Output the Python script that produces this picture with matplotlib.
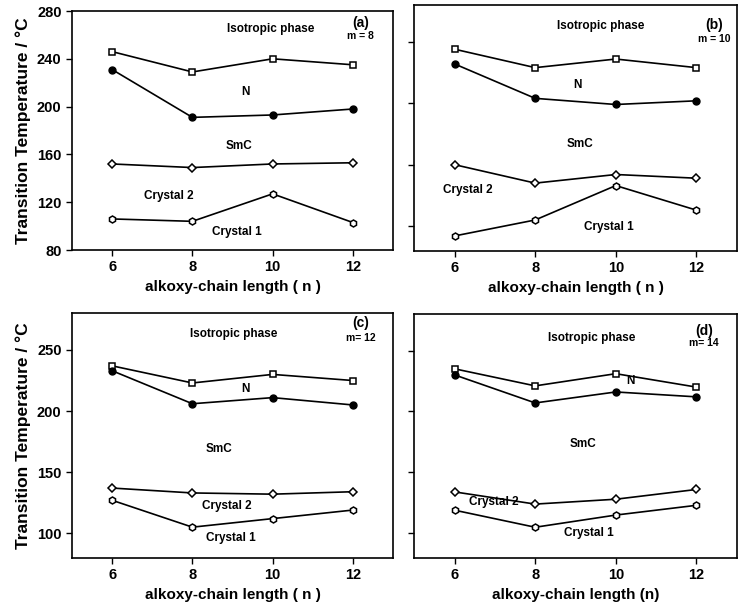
import matplotlib
matplotlib.use("Agg")
import matplotlib.pyplot as plt

plt.rcParams['font.family'] = ['Liberation Sans', 'DejaVu Sans']
plt.rcParams['font.weight'] = 'bold'

n = [6, 8, 10, 12]

# transition temperatures (deg C), one set per m
iso_a = [246, 229, 240, 235]
n_a = [231, 191, 193, 198]
smc_a = [152, 149, 152, 153]
cr_a = [106, 104, 127, 103]

iso_b = [244, 229, 236, 229]
n_b = [232, 204, 199, 202]
smc_b = [150, 135, 142, 139]
cr_b = [92, 105, 133, 113]

iso_c = [237, 223, 230, 225]
n_c = [233, 206, 211, 205]
smc_c = [137, 133, 132, 134]
cr_c = [127, 105, 112, 119]

iso_d = [235, 221, 231, 220]
n_d = [230, 207, 216, 212]
smc_d = [134, 124, 128, 136]
cr_d = [119, 105, 115, 123]

panels = [
    ('(a)', 'm = 8', iso_a, n_a, smc_a, cr_a),
    ('(b)', 'm = 10', iso_b, n_b, smc_b, cr_b),
    ('(c)', 'm= 12', iso_c, n_c, smc_c, cr_c),
    ('(d)', 'm= 14', iso_d, n_d, smc_d, cr_d),
]

# axes boxes in figure fractions [left, bottom, width, height]
boxes = [
    [0.0976, 0.5888, 0.4349, 0.3931],
    [0.5614, 0.5877, 0.4368, 0.4041],
    [0.0976, 0.0827, 0.4349, 0.4020],
    [0.5614, 0.0827, 0.4368, 0.4009],
]

# label positions (x, y) in data coords per panel
labels = [
    {'Isotropic phase': (9.95, 265), 'N': (9.33, 212), 'SmC': (9.16, 167),
     'Crystal 2': (7.41, 125), 'Crystal 1': (9.12, 95)},
    {'Isotropic phase': (9.62, 263), 'N': (9.04, 215), 'SmC': (9.12, 167),
     'Crystal 2': (6.34, 129), 'Crystal 1': (9.83, 99)},
    {'Isotropic phase': (9.03, 263), 'N': (9.31, 218), 'SmC': (8.66, 169),
     'Crystal 2': (8.87, 122), 'Crystal 1': (8.95, 96.5)},
    {'Isotropic phase': (9.41, 260), 'N': (10.37, 225), 'SmC': (9.19, 173),
     'Crystal 2': (6.98, 126), 'Crystal 1': (9.33, 100)},
]
tag_pos = [(12.2, 270, 259), (12.44, 264, 252), (12.2, 272, 260), (12.19, 266, 256)]

fig = plt.figure(figsize=(7.38, 6.08), dpi=100)

for i, (tag, mtxt, iso, nem, smc, cr) in enumerate(panels):
    ax = fig.add_axes(boxes[i])
    ax.plot(n, iso, 'k-', marker='s', mfc='white', mec='k', ms=4.5, mew=1.1, lw=1.2)
    ax.plot(n, nem, 'k-', marker='o', mfc='k', mec='k', ms=5, lw=1.2)
    ax.plot(n, smc, 'k-', marker='D', mfc='white', mec='k', ms=4.3, mew=1.1, lw=1.2)
    ax.plot(n, cr, 'k-', marker='h', mfc='white', mec='k', ms=5, mew=1.1, lw=1.2)
    ax.set_xlim(5, 13)
    ax.set_ylim(80, 280)
    ax.set_xticks(n)
    if i == 0:
        ax.set_yticks([80, 120, 160, 200, 240, 280])
    else:
        ax.set_yticks([100, 150, 200, 250])
    if i == 1 or i == 3:
        ax.set_yticklabels([])
    else:
        ax.set_ylabel('Transition Temperature / °C', fontsize=12.5, fontweight='bold')
    ax.tick_params(direction='out', length=4, labelsize=10.5, width=1)
    for sp in ax.spines.values():
        sp.set_linewidth(1.2)
    xl = 'alkoxy-chain length (n)' if i == 3 else 'alkoxy-chain length ( n )'
    ax.set_xlabel(xl, fontsize=11, fontweight='bold', labelpad=4)
    for txt, (x, y) in labels[i].items():
        ax.text(x, y, txt, ha='center', va='center', fontsize=8.5, fontweight='bold')
    tx, ty, my = tag_pos[i]
    ax.text(tx, ty, tag, ha='center', va='center', fontsize=10, fontweight='bold')
    ax.text(tx, my, mtxt, ha='center', va='center', fontsize=7.5, fontweight='bold')

fig.savefig('out.png', dpi=100)
